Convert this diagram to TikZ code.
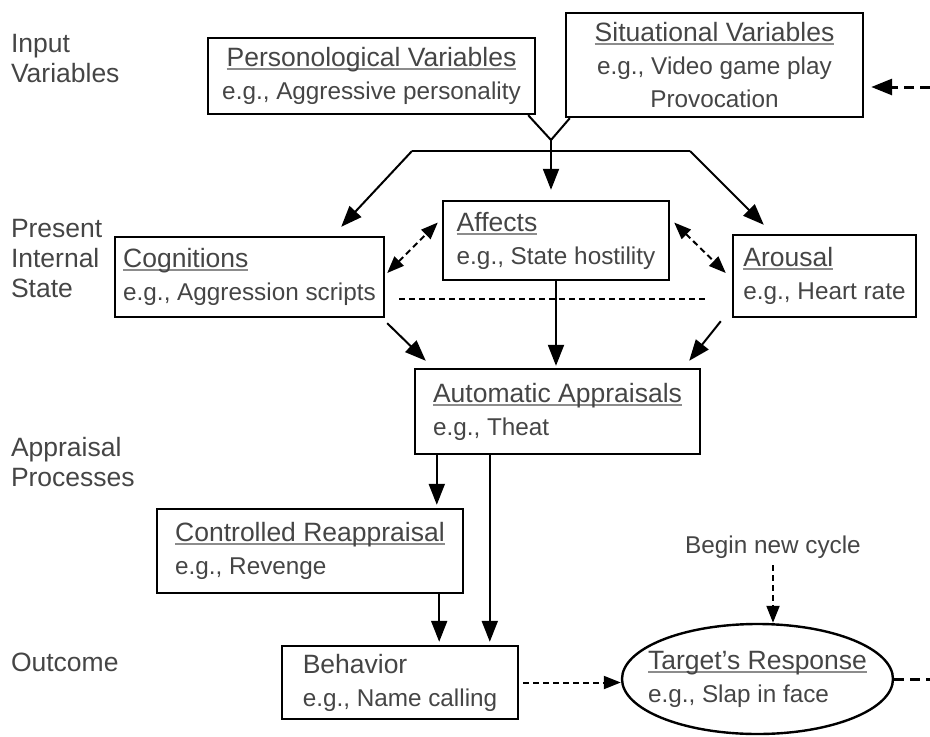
\documentclass[tikz,border=0pt]{standalone}
\usepackage{fontspec}
\setmainfont{Liberation Sans}
\usetikzlibrary{shapes.geometric, arrows, arrows.meta}
\usetikzlibrary{positioning}
\definecolor{textgray}{HTML}{454545}
\definecolor{linegray}{HTML}{8C8C8C}
\newcommand{\titletext}[1]{\setbox0\hbox{#1}\rlap{\color{linegray}\rule[-3.5pt]{\wd0}{1.6pt}}\box0}
\newcommand{\bigfont}{\fontsize{26.5}{33}\selectfont}
\newcommand{\smallfont}{\fontsize{24.3}{33}\selectfont}

\begin{document}
\begin{tikzpicture}[
x=1pt, y=-1pt, line width=2pt, >={Triangle[length=21pt,width=16pt]},
squarednode/.style={rectangle, draw=black, line width=2.4pt, text=textgray, font=\bigfont, align=left, inner sep=0pt},
ovalnode/.style={ellipse, draw=black, line width=2.4pt, text=textgray, font=\bigfont, align=left, inner xsep=-17pt, inner ysep=0pt},
sidenode/.style={text=textgray, font=\fontsize{26.5}{30}\selectfont, align=left, inner sep=0pt, anchor=west},
dashedarrow/.style={dash pattern=on 6pt off 4pt, >={Triangle[length=17pt,width=13pt]}},
loopline/.style={line width=3pt, dash pattern=on 10pt off 6pt},
]
\useasboundingbox (0,0) rectangle (930,737);
%Nodes
\node[sidenode] (input_label) at (10,59) {Input\\Variables};
\node[sidenode] (state_label) at (10,259) {Present\\Internal\\State};
\node[sidenode] (appraisal_label) at (10,462) {Appraisal\\Processes};
\node[sidenode] (outcome_label) at (10,662) {Outcome};

\node[squarednode, align=center, minimum width=327pt, minimum height=76pt] (personological_node) at (371.5,76) {\titletext{Personological Variables}\\\smallfont e.g., Aggressive personality};
\node[squarednode, align=center, minimum width=297pt, minimum height=104pt] (situational_node) at (714.5,65) {\titletext{Situational Variables}\\\smallfont e.g., Video game play\\\smallfont Provocation};
\node[squarednode, minimum width=226pt, minimum height=79pt] (affects_node) at (556,240.5) {\titletext{Affects}\\\smallfont e.g., State hostility};
\node[squarednode, minimum width=269pt, minimum height=80pt] (cognitions_node) at (249.5,277) {\titletext{Cognitions}\\\smallfont e.g., Aggression scripts};
\node[squarednode, minimum width=183pt, minimum height=82pt] (arousal_node) at (824.5,276) {\titletext{Arousal}\\\smallfont e.g., Heart rate};
\node[squarednode, minimum width=285pt, minimum height=85pt] (automatic_node) at (557.5,411.5) {\titletext{Automatic Appraisals}\\\smallfont e.g., Theat};
\node[squarednode, minimum width=306pt, minimum height=84pt] (controlled_node) at (310,551) {\titletext{Controlled Reappraisal}\\\smallfont e.g., Revenge};
\node[squarednode, minimum width=236pt, minimum height=73pt] (behavior_node) at (400,682.5) {Behavior\\\smallfont e.g., Name calling};
\node[ovalnode, minimum width=271pt, minimum height=110pt] (response_node) at (757.5,679) {\titletext{Target's Response}\\\smallfont e.g., Slap in face};
\node[text=textgray, font=\smallfont, inner sep=0pt] (cycle_label) at (773,547) {Begin new cycle};

\coordinate (split) at (551,140);
\coordinate (fork_left) at (412,151);
\coordinate (fork_right) at (690,151);
\coordinate (loop_out) at (930,679);
\coordinate (loop_in) at (930,87);

%Lines
\draw ([xshift=-8pt]personological_node.south east) -- (split) -- ([xshift=5pt]situational_node.south west);
\draw[->, shorten >=10pt] (split) -- (split |- affects_node.north);
\draw (fork_left) -- (fork_right);
\draw[->] (fork_left) -- ([xshift=-44pt,yshift=9pt]cognitions_node.north east);
\draw[->] (fork_right) -- ([xshift=32pt,yshift=9pt]arousal_node.north west);

\draw[<->, dashedarrow] ([xshift=2pt,yshift=4pt]cognitions_node.east) -- ([xshift=-4pt,yshift=18pt]affects_node.west);
\draw[<->, dashedarrow] ([xshift=4pt,yshift=18pt]affects_node.east) -- ([xshift=-6pt,yshift=3pt]arousal_node.west);
\draw[dash pattern=on 6pt off 4pt] ([xshift=14pt,yshift=-22pt]cognitions_node.east) -- ([xshift=-25pt,yshift=-23pt]arousal_node.west);

\draw[->] ([xshift=2pt,yshift=-5pt]cognitions_node.south east) -- ([xshift=12pt,yshift=7pt]automatic_node.north west);
\draw[->, shorten >=2pt] (affects_node.south) -- (affects_node.south |- automatic_node.north);
\draw[->] ([xshift=-11pt,yshift=-3pt]arousal_node.south west) -- ([xshift=-12pt,yshift=7pt]automatic_node.north east);

\draw[->, shorten >=3pt] ([xshift=23pt]automatic_node.south west) -- ([xshift=23pt]automatic_node.south west |- controlled_node.north);
\draw[->, shorten >=3pt] ([xshift=76pt]automatic_node.south west) -- ([xshift=76pt]automatic_node.south west |- behavior_node.north);
\draw[->, shorten >=3pt] ([xshift=-25pt]controlled_node.south east) -- ([xshift=-25pt]controlled_node.south east |- behavior_node.north);

\draw[->, dashedarrow, shorten <=4pt] (behavior_node.east) -- (behavior_node.east -| response_node.west);
\draw[->, dashedarrow, shorten <=6pt] (cycle_label.south) -- (cycle_label.south |- response_node.north);
\draw[loopline] (response_node.east) -- (loop_out);
\draw[->, loopline, shorten >=7pt] (loop_in) -- ([yshift=-22pt]situational_node.east);

\end{tikzpicture}
\end{document}
